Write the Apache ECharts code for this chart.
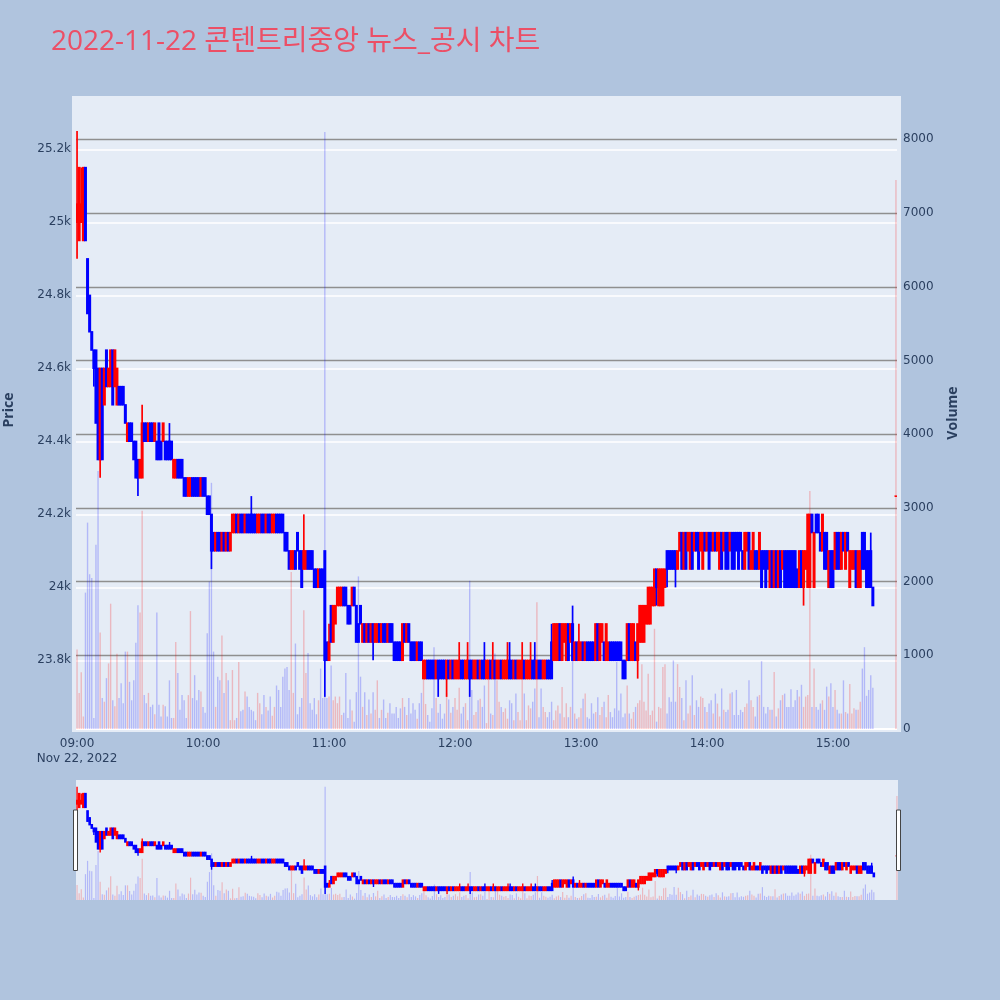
<!DOCTYPE html>
<html><head><meta charset="utf-8">
<script src="https://cdn.jsdelivr.net/npm/echarts@6/dist/echarts.min.js"></script>
<style>html,body{margin:0;padding:0;background:#b0c4de}#c{width:1000px;height:1000px}</style>
</head><body><div id="c"></div>
<script>
const titleText = '2022-11-22 콘텐트리중앙 뉴스_공시 차트';
const dateText = 'Nov 22, 2022';
const times = [
"09:00","09:01","09:02","09:03","09:04","09:05","09:06","09:07","09:08","09:09",
"09:10","09:11","09:12","09:13","09:14","09:15","09:16","09:17","09:18","09:19",
"09:20","09:21","09:22","09:23","09:24","09:25","09:26","09:27","09:28","09:29",
"09:30","09:31","09:32","09:33","09:34","09:35","09:36","09:37","09:38","09:39",
"09:40","09:41","09:42","09:43","09:44","09:45","09:46","09:47","09:48","09:49",
"09:50","09:51","09:52","09:53","09:54","09:55","09:56","09:57","09:58","09:59",
"10:00","10:01","10:02","10:03","10:04","10:05","10:06","10:07","10:08","10:09",
"10:10","10:11","10:12","10:13","10:14","10:15","10:16","10:17","10:18","10:19",
"10:20","10:21","10:22","10:23","10:24","10:25","10:26","10:27","10:28","10:29",
"10:30","10:31","10:32","10:33","10:34","10:35","10:36","10:37","10:38","10:39",
"10:40","10:41","10:42","10:43","10:44","10:45","10:46","10:47","10:48","10:49",
"10:50","10:51","10:52","10:53","10:54","10:55","10:56","10:57","10:58","10:59",
"11:00","11:01","11:02","11:03","11:04","11:05","11:06","11:07","11:08","11:09",
"11:10","11:11","11:12","11:13","11:14","11:15","11:16","11:17","11:18","11:19",
"11:20","11:21","11:22","11:23","11:24","11:25","11:26","11:27","11:28","11:29",
"11:30","11:31","11:32","11:33","11:34","11:35","11:36","11:37","11:38","11:39",
"11:40","11:41","11:42","11:43","11:44","11:45","11:46","11:47","11:48","11:49",
"11:50","11:51","11:52","11:53","11:54","11:55","11:56","11:57","11:58","11:59",
"12:00","12:01","12:02","12:03","12:04","12:05","12:06","12:07","12:08","12:09",
"12:10","12:11","12:12","12:13","12:14","12:15","12:16","12:17","12:18","12:19",
"12:20","12:21","12:22","12:23","12:24","12:25","12:26","12:27","12:28","12:29",
"12:30","12:31","12:32","12:33","12:34","12:35","12:36","12:37","12:38","12:39",
"12:40","12:41","12:42","12:43","12:44","12:45","12:46","12:47","12:48","12:49",
"12:50","12:51","12:52","12:53","12:54","12:55","12:56","12:57","12:58","12:59",
"13:00","13:01","13:02","13:03","13:04","13:05","13:06","13:07","13:08","13:09",
"13:10","13:11","13:12","13:13","13:14","13:15","13:16","13:17","13:18","13:19",
"13:20","13:21","13:22","13:23","13:24","13:25","13:26","13:27","13:28","13:29",
"13:30","13:31","13:32","13:33","13:34","13:35","13:36","13:37","13:38","13:39",
"13:40","13:41","13:42","13:43","13:44","13:45","13:46","13:47","13:48","13:49",
"13:50","13:51","13:52","13:53","13:54","13:55","13:56","13:57","13:58","13:59",
"14:00","14:01","14:02","14:03","14:04","14:05","14:06","14:07","14:08","14:09",
"14:10","14:11","14:12","14:13","14:14","14:15","14:16","14:17","14:18","14:19",
"14:20","14:21","14:22","14:23","14:24","14:25","14:26","14:27","14:28","14:29",
"14:30","14:31","14:32","14:33","14:34","14:35","14:36","14:37","14:38","14:39",
"14:40","14:41","14:42","14:43","14:44","14:45","14:46","14:47","14:48","14:49",
"14:50","14:51","14:52","14:53","14:54","14:55","14:56","14:57","14:58","14:59",
"15:00","15:01","15:02","15:03","15:04","15:05","15:06","15:07","15:08","15:09",
"15:10","15:11","15:12","15:13","15:14","15:15","15:16","15:17","15:18","15:19",
"15:30"];
const opens = [
25000,24950,25000,24950,25150,24900,24800,24700,24650,24650,
24600,24350,24600,24500,24650,24550,24550,24650,24550,24500,
24550,24550,24550,24500,24400,24450,24450,24400,24400,24350,
24300,24300,24450,24450,24400,24450,24450,24400,24400,24450,
24400,24400,24400,24400,24400,24400,24300,24300,24350,24350,
24350,24300,24300,24250,24250,24300,24300,24300,24300,24250,
24300,24300,24250,24250,24200,24150,24100,24150,24150,24100,
24150,24100,24150,24100,24150,24150,24200,24150,24200,24200,
24150,24200,24200,24200,24200,24200,24150,24150,24200,24200,
24150,24200,24200,24150,24150,24200,24200,24200,24200,24150,
24150,24100,24050,24050,24100,24150,24100,24100,24050,24050,
24100,24100,24100,24050,24050,24000,24050,24050,24100,23850,
23800,23950,23850,23900,23950,23950,23950,24000,24000,23950,
23950,23950,24000,23950,23900,23950,23850,23900,23850,23900,
23850,23900,23850,23850,23900,23850,23900,23900,23850,23900,
23900,23850,23850,23850,23850,23800,23900,23850,23900,23850,
23850,23850,23800,23850,23850,23750,23750,23800,23800,23800,
23800,23750,23800,23800,23800,23800,23750,23800,23750,23800,
23750,23750,23750,23800,23800,23750,23750,23800,23800,23750,
23750,23800,23750,23800,23800,23750,23750,23800,23750,23800,
23750,23750,23800,23750,23750,23750,23800,23800,23750,23800,
23750,23750,23750,23800,23750,23750,23750,23800,23800,23750,
23800,23800,23750,23750,23800,23800,23850,23800,23800,23800,
23900,23800,23850,23800,23900,23850,23900,23800,23850,23800,
23800,23850,23800,23850,23850,23850,23850,23800,23900,23800,
23850,23850,23800,23800,23850,23850,23850,23850,23850,23850,
23800,23800,23800,23900,23800,23800,23850,23800,23850,23850,
23850,23900,23900,23900,23950,23950,24050,23950,23950,23950,
24000,24100,24100,24100,24100,24100,24050,24100,24150,24050,
24150,24100,24050,24150,24100,24150,24150,24100,24050,24150,
24100,24150,24150,24100,24150,24100,24050,24150,24100,24150,
24150,24100,24150,24150,24150,24150,24150,24100,24050,24100,
24150,24050,24050,24100,24100,24050,24100,24100,24100,24100,
24000,24100,24000,24100,24000,24100,24050,24100,24100,24100,
24100,24100,24100,24050,24000,24100,24000,24050,24000,24000,
24200,24000,24200,24200,24150,24100,24150,24150,24000,24100,
24100,24050,24150,24150,24050,24150,24050,24150,24000,24050,
24050,24100,24000,24000,24150,24150,24100,24100,24100,24000,
24250];
const closes = [
25050,25150,25050,25150,24950,24750,24700,24650,24600,24450,
24350,24600,24350,24600,24550,24600,24650,24500,24650,24600,
24500,24500,24500,24450,24450,24400,24400,24350,24300,24300,
24350,24450,24400,24400,24450,24400,24400,24450,24350,24350,
24350,24450,24350,24350,24350,24350,24350,24350,24300,24300,
24300,24250,24250,24300,24300,24250,24250,24250,24250,24300,
24250,24250,24200,24200,24100,24100,24150,24100,24100,24150,
24100,24150,24100,24150,24200,24200,24150,24200,24150,24150,
24200,24150,24150,24150,24150,24150,24200,24200,24150,24150,
24200,24150,24150,24200,24200,24150,24150,24150,24150,24100,
24100,24050,24100,24100,24050,24100,24050,24000,24100,24100,
24050,24050,24050,24000,24000,24050,24000,24000,23800,23800,
23850,23850,23950,23950,24000,24000,24000,23950,23950,23900,
23900,24000,23950,23850,23850,23900,23900,23850,23900,23850,
23900,23850,23900,23900,23850,23900,23850,23850,23900,23850,
23850,23800,23800,23800,23800,23900,23850,23900,23850,23800,
23800,23800,23850,23800,23800,23800,23800,23750,23750,23750,
23750,23800,23750,23750,23750,23750,23800,23750,23800,23750,
23800,23800,23800,23750,23750,23800,23800,23750,23750,23800,
23800,23750,23800,23750,23750,23800,23800,23750,23800,23750,
23800,23800,23750,23800,23800,23800,23750,23750,23800,23750,
23800,23800,23800,23750,23800,23800,23800,23750,23750,23800,
23750,23750,23800,23800,23750,23750,23750,23900,23900,23900,
23800,23900,23900,23900,23800,23900,23800,23850,23800,23850,
23850,23800,23850,23800,23800,23800,23800,23900,23800,23900,
23900,23800,23900,23850,23800,23800,23800,23800,23800,23800,
23750,23750,23900,23800,23900,23900,23800,23900,23950,23950,
23950,23950,24000,24000,24000,24050,24000,24050,24050,24050,
24050,24050,24050,24050,24050,24050,24100,24150,24050,24150,
24050,24150,24150,24050,24150,24100,24050,24150,24150,24100,
24150,24050,24100,24150,24100,24150,24150,24050,24150,24050,
24050,24150,24050,24050,24100,24050,24100,24050,24150,24150,
24050,24100,24150,24050,24050,24150,24000,24050,24000,24050,
24100,24000,24100,24000,24100,24000,24100,24000,24000,24000,
24000,24000,24000,24000,24100,24000,24100,24100,24200,24200,
24150,24150,24150,24150,24100,24200,24050,24050,24100,24000,
24000,24150,24050,24050,24150,24100,24150,24100,24100,24100,
24100,24000,24100,24100,24050,24050,24000,24000,24000,23950,
24250];
const lows = [
24900,24950,25000,24950,24950,24750,24700,24650,24550,24450,
24350,24300,24350,24500,24550,24550,24550,24500,24550,24500,
24500,24500,24500,24450,24400,24400,24400,24350,24300,24250,
24300,24300,24400,24400,24400,24400,24400,24400,24350,24350,
24350,24400,24350,24350,24350,24350,24300,24300,24300,24300,
24300,24250,24250,24250,24250,24250,24250,24250,24250,24250,
24250,24250,24200,24200,24050,24100,24100,24100,24100,24100,
24100,24100,24100,24100,24150,24150,24150,24150,24150,24150,
24150,24150,24150,24150,24150,24150,24150,24150,24150,24150,
24150,24150,24150,24150,24150,24150,24150,24150,24150,24100,
24100,24050,24050,24050,24050,24100,24050,24000,24050,24050,
24050,24050,24050,24000,24000,24000,24000,24000,23700,23800,
23800,23850,23850,23900,23950,23950,23950,23950,23950,23900,
23900,23950,23950,23850,23850,23900,23850,23850,23850,23850,
23850,23800,23850,23850,23850,23850,23850,23850,23850,23850,
23850,23800,23800,23800,23800,23800,23850,23850,23850,23800,
23800,23800,23800,23800,23800,23750,23750,23750,23750,23750,
23750,23750,23700,23750,23750,23750,23700,23750,23750,23750,
23750,23750,23750,23750,23750,23750,23750,23700,23750,23750,
23750,23750,23750,23750,23750,23750,23750,23750,23750,23750,
23750,23750,23750,23750,23750,23750,23750,23750,23750,23750,
23750,23750,23750,23750,23750,23750,23750,23750,23750,23750,
23750,23750,23750,23750,23750,23750,23750,23800,23800,23800,
23800,23800,23850,23800,23800,23850,23800,23800,23800,23800,
23800,23800,23800,23800,23800,23800,23800,23800,23800,23800,
23850,23800,23800,23800,23800,23800,23800,23800,23800,23800,
23750,23750,23800,23800,23800,23800,23800,23750,23850,23850,
23850,23900,23900,23900,23950,23950,23950,23950,23950,23950,
24000,24000,24050,24050,24050,24000,24050,24100,24050,24050,
24050,24100,24050,24050,24100,24100,24050,24100,24050,24100,
24100,24050,24100,24100,24100,24100,24050,24050,24100,24050,
24050,24100,24050,24050,24100,24050,24100,24050,24050,24100,
24050,24050,24050,24050,24050,24050,24000,24050,24000,24050,
24000,24000,24000,24000,24000,24000,24050,24000,24000,24000,
24000,24000,24000,24000,24000,24000,23950,24050,24000,24000,
24150,24000,24150,24150,24100,24100,24050,24050,24000,24000,
24000,24050,24050,24050,24050,24100,24050,24100,24000,24050,
24050,24000,24000,24000,24050,24050,24000,24000,24000,23950,
24250];
const highs = [
25250,25150,25150,25150,25150,24900,24800,24700,24650,24650,
24600,24600,24600,24600,24650,24600,24650,24650,24650,24600,
24550,24550,24550,24500,24450,24450,24450,24400,24400,24350,
24350,24500,24450,24450,24450,24450,24450,24450,24400,24450,
24400,24450,24400,24400,24450,24400,24350,24350,24350,24350,
24350,24300,24300,24300,24300,24300,24300,24300,24300,24300,
24300,24300,24250,24250,24200,24150,24150,24150,24150,24150,
24150,24150,24150,24150,24200,24200,24200,24200,24200,24200,
24200,24200,24200,24250,24200,24200,24200,24200,24200,24200,
24200,24200,24200,24200,24200,24200,24200,24200,24200,24150,
24150,24100,24100,24100,24100,24150,24100,24100,24200,24100,
24100,24100,24100,24050,24050,24050,24050,24050,24100,23850,
23900,23950,23950,23950,24000,24000,24000,24000,24000,23950,
23950,24000,24000,23950,23900,23950,23900,23900,23900,23900,
23900,23900,23900,23900,23900,23900,23900,23900,23900,23900,
23900,23850,23850,23850,23850,23900,23900,23900,23900,23850,
23850,23850,23850,23850,23850,23800,23800,23800,23800,23800,
23800,23800,23800,23800,23800,23800,23800,23800,23800,23800,
23800,23800,23850,23800,23800,23800,23850,23800,23800,23800,
23800,23800,23800,23800,23850,23800,23800,23800,23850,23800,
23800,23800,23800,23800,23800,23850,23850,23800,23800,23800,
23800,23800,23850,23800,23800,23800,23850,23800,23850,23800,
23800,23800,23800,23800,23800,23800,23900,23900,23900,23900,
23900,23900,23900,23900,23900,23900,23950,23850,23850,23900,
23850,23850,23850,23850,23850,23850,23850,23900,23900,23900,
23900,23850,23900,23850,23850,23850,23850,23850,23850,23850,
23800,23800,23900,23900,23900,23900,23850,23900,23950,23950,
23950,23950,24000,24000,24000,24050,24050,24050,24050,24050,
24050,24100,24100,24100,24100,24100,24100,24150,24150,24150,
24150,24150,24150,24150,24150,24150,24150,24150,24150,24150,
24150,24150,24150,24150,24150,24150,24150,24150,24150,24150,
24150,24150,24150,24150,24150,24150,24150,24100,24150,24150,
24150,24100,24150,24100,24100,24150,24100,24100,24100,24100,
24100,24100,24100,24100,24100,24100,24100,24100,24100,24100,
24100,24100,24100,24050,24100,24100,24100,24100,24200,24200,
24200,24150,24200,24200,24150,24200,24150,24150,24100,24100,
24100,24150,24150,24150,24150,24150,24150,24150,24100,24100,
24100,24100,24100,24100,24150,24150,24100,24100,24150,24000,
24250];
const volumes = [
1080,490,770,170,1850,2800,2100,2050,150,2500,
3500,1310,420,370,690,890,1700,390,310,1020,
420,620,350,1050,1050,640,390,660,1170,1680,
1580,2960,460,350,490,300,330,200,1580,330,
170,330,310,170,660,150,150,1180,760,260,
460,390,150,460,1600,420,730,390,530,510,
300,220,1300,2000,3340,1050,300,710,660,1270,
490,760,660,120,800,120,150,910,240,260,
510,440,300,260,240,120,490,350,200,460,
300,250,440,180,300,590,530,300,710,820,
840,530,2130,490,1160,200,300,420,1610,760,
1030,350,260,420,200,390,820,420,8100,420,
440,860,390,440,350,440,190,220,760,150,
400,250,100,500,2070,710,300,500,190,400,
210,500,260,660,150,260,400,150,220,350,
210,210,300,150,280,420,300,190,420,210,
350,260,140,350,490,730,340,190,100,280,
1110,420,220,340,140,210,490,400,220,300,
420,260,560,210,300,350,120,2010,530,190,
230,390,410,300,590,80,775,210,190,1025,
660,370,300,230,280,140,390,350,120,480,
230,120,775,480,120,320,280,370,550,1720,
160,550,300,230,160,230,370,120,250,320,
210,570,160,350,160,300,1380,210,140,160,
280,410,480,160,140,350,210,230,430,190,
300,370,160,460,230,160,280,910,250,480,
160,210,590,210,140,230,300,350,390,880,
370,250,750,190,250,1360,100,300,280,840,
880,210,430,370,930,370,880,570,420,120,
660,210,320,730,190,390,300,440,420,300,
230,345,390,210,480,345,170,550,260,230,
260,480,500,190,530,190,260,230,300,345,
660,390,300,170,440,460,920,300,210,300,
260,260,775,170,280,390,460,480,300,300,
540,300,390,530,440,600,300,440,460,3230,
300,820,300,260,345,390,260,575,440,620,
300,530,260,210,210,660,230,210,610,210,
280,260,260,370,820,1110,450,530,730,560,
7450];
const priceTicks = [23800, 24000, 24200, 24400, 24600, 24800, 25000, 25200];
const volumeTicks = [0, 1000, 2000, 3000, 4000, 5000, 6000, 7000, 8000];
const hourTicks = [0, 60, 120, 180, 240, 300, 360];

const FONT = "'Open Sans', 'Noto Sans CJK KR', sans-serif";
const TICKFONT = "'DejaVu Sans', Verdana, sans-serif";
const TXT = '#2a3f5f';
function toMin(t){ const p = t.split(':'); return (Number(p[0]) - 9) * 60 + Number(p[1]); }
function fmtMin(v){ const h = 9 + Math.floor(v / 60), m = v % 60; return (h < 10 ? '0' : '') + h + ':' + (m < 10 ? '0' : '') + m; }

const candleData = times.map((t, i) => [toMin(t), opens[i], closes[i], lows[i], highs[i]]);
const volData = times.map((t, i) => [toMin(t), volumes[i], closes[i] >= opens[i] ? 1 : 0]);

function candleRenderer(bodyW, wickW){
  return function(params, api){
    const x = api.value(0), o = api.value(1), c = api.value(2), l = api.value(3), h = api.value(4);
    const pO = api.coord([x, o]), pC = api.coord([x, c]), pL = api.coord([x, l]), pH = api.coord([x, h]);
    const col = c >= o ? '#ff0000' : '#0000ff';
    const top = Math.min(pO[1], pC[1]), bot = Math.max(pO[1], pC[1]);
    return {type: 'group', children: [
      {type: 'rect', shape: {x: pO[0] - wickW / 2, y: pH[1], width: wickW, height: Math.max(pL[1] - pH[1], 1)}, style: {fill: col}},
      {type: 'rect', shape: {x: pO[0] - bodyW / 2, y: top - 0.7, width: bodyW, height: bot - top + 1.4}, style: {fill: col}}
    ]};
  };
}
function volRenderer(w){
  return function(params, api){
    const x = api.value(0), v = api.value(1), up = api.value(2);
    const p0 = api.coord([x, 0]), p1 = api.coord([x, v]);
    return {type: 'rect', shape: {x: p0[0] - w / 2, y: p1[1], width: w, height: p0[1] - p1[1]},
      style: {fill: up ? 'rgba(255,0,0,0.22)' : 'rgba(0,0,255,0.22)'}};
  };
}

const chart = echarts.init(document.getElementById('c'), null, {renderer: 'canvas'});
chart.setOption({
  backgroundColor: '#b0c4de',
  animation: false,
  title: {text: titleText, left: 46, top: 23,
    textStyle: {color: '#ec4f66', fontSize: 28, fontWeight: 'normal', fontFamily: FONT}},
  grid: [
    {left: 76, top: 96, width: 821, height: 633},
    {left: 76, top: 780, width: 822, height: 120}
  ],
  xAxis: [
    {type: 'value', gridIndex: 0, min: -0.5, max: 390.5,
      splitLine: {show: false}, axisLine: {show: false}, axisTick: {show: false},
      axisLabel: {customValues: hourTicks, color: TXT, fontSize: 12, fontFamily: TICKFONT, margin: 7, lineHeight: 15,
        formatter: v => v === 0 ? fmtMin(v) + '\n' + dateText : fmtMin(v)}},
    {type: 'value', gridIndex: 1, min: -0.5, max: 390.5, show: false, splitLine: {show: false}}
  ],
  yAxis: [
    {type: 'value', gridIndex: 0, position: 'left', min: 23612, max: 25346,
      splitLine: {show: false}, axisLine: {show: false}, axisTick: {show: false},
      axisLabel: {customValues: priceTicks, color: TXT, fontSize: 12, fontFamily: TICKFONT, margin: 5,
        formatter: v => (v / 1000) + 'k'}},
    {type: 'value', gridIndex: 0, position: 'right', min: 0, max: 8588,
      splitLine: {show: false}, axisLine: {show: false}, axisTick: {show: false},
      axisLabel: {customValues: volumeTicks, color: TXT, fontSize: 12, fontFamily: TICKFONT, margin: 6,
        formatter: v => String(v)}},
    {type: 'value', gridIndex: 1, min: 23612, max: 25346, show: false, splitLine: {show: false}},
    {type: 'value', gridIndex: 1, min: 0, max: 8588, show: false, splitLine: {show: false}}
  ],
  graphic: [
    {type: 'rect', z: 0, silent: true, shape: {x: 72, y: 96, width: 829, height: 636}, style: {fill: '#e5ecf6'}},
    {type: 'rect', z: 0, silent: true, shape: {x: 76, y: 780, width: 822, height: 120}, style: {fill: '#e5ecf6'}},
    {type: 'rect', z: 20, silent: true, shape: {x: 73.5, y: 810, width: 4, height: 60.5}, style: {fill: '#ffffff', stroke: '#444444', lineWidth: 1}},
    {type: 'rect', z: 20, silent: true, shape: {x: 896.5, y: 810, width: 4, height: 60.5}, style: {fill: '#ffffff', stroke: '#444444', lineWidth: 1}},
    {type: 'text', z: 20, x: 9.5, y: 410, rotation: Math.PI / 2, silent: true,
      style: {text: 'Price', fill: TXT, font: 'bold 14px ' + FONT, align: 'center', verticalAlign: 'middle'}},
    {type: 'text', z: 20, x: 953, y: 413, rotation: Math.PI / 2, silent: true,
      style: {text: 'Volume', fill: TXT, font: 'bold 14px ' + FONT, align: 'center', verticalAlign: 'middle'}}
  ],
  series: [
    {type: 'custom', name: 'Volume', xAxisIndex: 0, yAxisIndex: 1, z: 6, clip: true,
      data: volData, encode: {x: 0, y: 1}, renderItem: volRenderer(1.4),
      markLine: {silent: true, symbol: 'none', label: {show: false}, animation: false,
        data: volumeTicks.map(v => ({yAxis: v, lineStyle: {color: v === 0 ? '#ffffff' : '#8f8f8f', width: v === 0 ? 2 : 1.4, type: 'solid'}}))}},
    {type: 'custom', name: 'Price', xAxisIndex: 0, yAxisIndex: 0, z: 7, clip: true,
      data: candleData, encode: {x: 0, y: [1, 2, 3, 4]}, renderItem: candleRenderer(3, 1.7),
      markLine: {silent: true, symbol: 'none', label: {show: false}, animation: false,
        lineStyle: {color: '#ffffff', width: 1.5, type: 'solid'},
        data: priceTicks.map(v => ({yAxis: v}))}},
    {type: 'custom', xAxisIndex: 1, yAxisIndex: 3, z: 6, clip: true,
      data: volData, encode: {x: 0, y: 1}, renderItem: volRenderer(1.2)},
    {type: 'custom', xAxisIndex: 1, yAxisIndex: 2, z: 7, clip: true,
      data: candleData, encode: {x: 0, y: [1, 2, 3, 4]}, renderItem: candleRenderer(2.6, 1.4)}
  ]
});
</script></body></html>
